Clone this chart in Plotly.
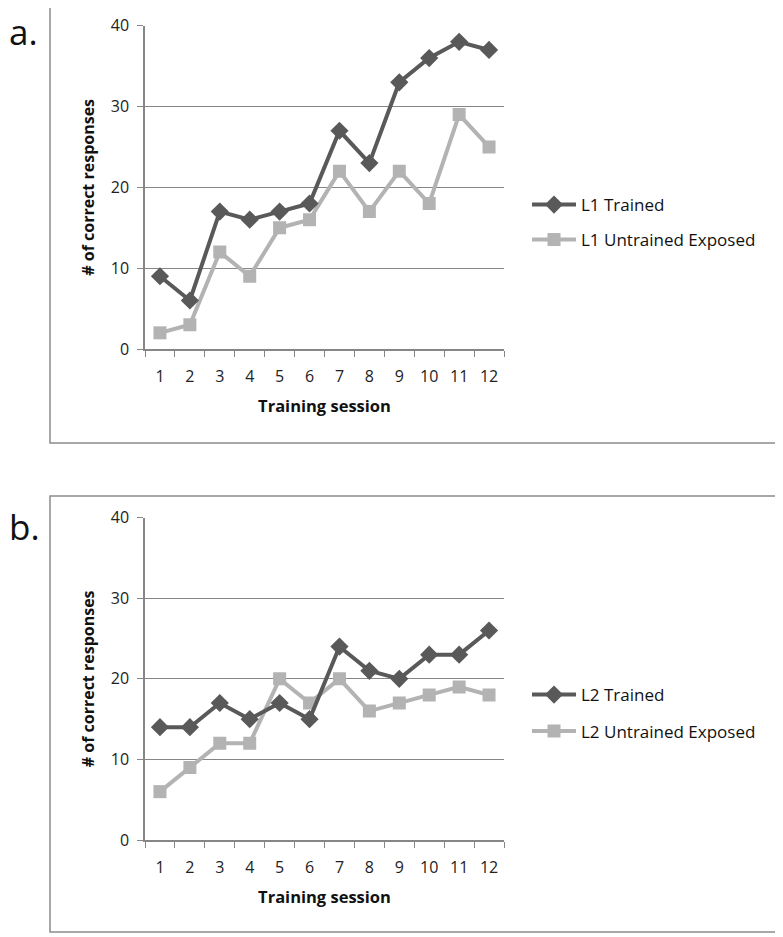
import plotly.graph_objects as go

sessions = [str(i) for i in range(1, 13)]
l1_trained = [9, 6, 17, 16, 17, 18, 27, 23, 33, 36, 38, 37]
l1_untrained = [2, 3, 12, 9, 15, 16, 22, 17, 22, 18, 29, 25]
l2_trained = [14, 14, 17, 15, 17, 15, 24, 21, 20, 23, 23, 26]
l2_untrained = [6, 9, 12, 12, 20, 17, 20, 16, 17, 18, 19, 18]
y_ticks = [0, 10, 20, 30, 40]

W, H = 783, 937
OFF = 8  # page body margin
DARK = "#595959"
LIGHT = "#b3b3b3"
AX = "#868686"
FONT = "Open Sans"

def px(x):
    return (x - OFF) / W

def py(y):
    return 1 - (y - OFF) / H

fig = go.Figure()

def add_pair(trained, untrained, names, xa, ya, legs):
    fig.add_trace(go.Scatter(
        x=sessions, y=untrained, name=names[1], mode="lines+markers",
        line=dict(color=LIGHT, width=4),
        marker=dict(symbol="square", size=13, color=LIGHT),
        xaxis=xa, yaxis=ya, legend=legs[1]))
    fig.add_trace(go.Scatter(
        x=sessions, y=trained, name=names[0], mode="lines+markers",
        line=dict(color=DARK, width=4),
        marker=dict(symbol="diamond", size=14, color=DARK),
        xaxis=xa, yaxis=ya, legend=legs[0]))

add_pair(l1_trained, l1_untrained, ["L1 Trained", "L1 Untrained Exposed"], "x", "y", ["legend", "legend2"])
add_pair(l2_trained, l2_untrained, ["L2 Trained", "L2 Untrained Exposed"], "x2", "y2", ["legend3", "legend4"])

xcommon = dict(
    type="category", range=[-0.5, 11.5], tickson="boundaries", automargin=False,
    ticks="outside", ticklen=6, tickcolor=AX, showline=True, linecolor=AX, linewidth=1.5,
    ticklabelstandoff=12,
    showgrid=False, tickfont=dict(family=FONT, size=16, color="#222"),
    title=dict(text="<b>Training session</b>", font=dict(family=FONT, size=16.5, color="#111"), standoff=14),
    fixedrange=True,
)
ycommon = dict(
    range=[0, 40], tickvals=y_ticks, ticks="outside", ticklen=6, tickcolor=AX, automargin=False,
    ticklabelstandoff=5,
    showline=True, linecolor=AX, linewidth=1.5, showgrid=True, gridcolor=AX, gridwidth=1.2,
    zeroline=False, tickfont=dict(family=FONT, size=16, color="#222"),
    title=dict(text="<b># of correct responses</b>", font=dict(family=FONT, size=16, color="#111"), standoff=12),
    fixedrange=True,
)

xd = [px(145), px(504)]
fig.update_layout(
    xaxis=dict(domain=xd, anchor="y", **xcommon),
    yaxis=dict(domain=[py(349), py(25.7)], anchor="x", **ycommon),
    xaxis2=dict(domain=xd, anchor="y2", **xcommon),
    yaxis2=dict(domain=[py(840), py(517.7)], anchor="x2", **ycommon),
)

legend_style = dict(font=dict(family=FONT, size=17, color="#111"), bgcolor="rgba(0,0,0,0)",
                    xanchor="left", yanchor="middle", borderwidth=0, itemwidth=44)
fig.update_layout(
    legend=dict(x=px(527), y=py(205), **legend_style),
    legend2=dict(x=px(527), y=py(240), **legend_style),
    legend3=dict(x=px(527), y=py(695), **legend_style),
    legend4=dict(x=px(527), y=py(731.5), **legend_style),
)

box = dict(type="rect", xref="paper", yref="paper", line=dict(color="#8c8c8c", width=1.5), fillcolor="rgba(0,0,0,0)")
fig.add_shape(x0=px(50), x1=px(778), y0=py(443), y1=py(3.5), **box)
fig.add_shape(x0=px(50), x1=px(778), y0=py(932), y1=py(496), **box)

fig.add_annotation(text="a.", x=px(8), y=py(31.5), xref="paper", yref="paper", xanchor="left", yanchor="middle",
                   showarrow=False, borderpad=0, font=dict(family=FONT, size=35, color="#111"))
fig.add_annotation(text="b.", x=px(8), y=py(526.5), xref="paper", yref="paper", xanchor="left", yanchor="middle",
                   showarrow=False, borderpad=0, font=dict(family=FONT, size=35, color="#111"))

fig.update_layout(width=W, height=H, margin=dict(l=0, r=0, t=0, b=0, autoexpand=False),
                  paper_bgcolor="white", plot_bgcolor="white", showlegend=True)

fig.write_html("out.html")
